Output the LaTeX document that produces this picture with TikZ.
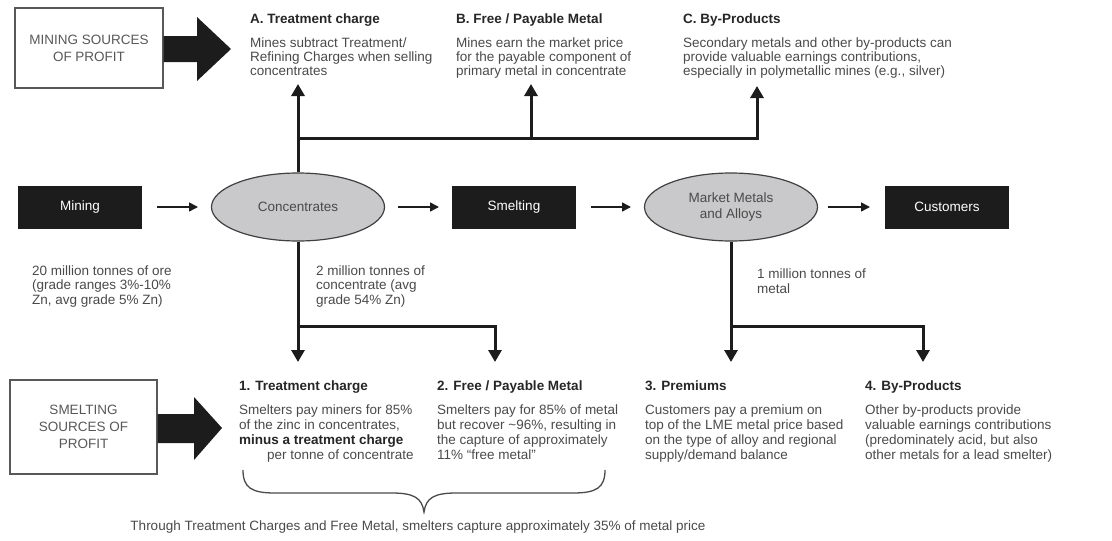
\documentclass[tikz,border=0pt]{standalone}
\usepackage{fontspec}
\setmainfont{Liberation Sans}
\usetikzlibrary{arrows.meta,shapes.geometric}
\definecolor{boxblack}{HTML}{1C1C1C}
\definecolor{ellfill}{HTML}{C9C9CB}
\definecolor{bodygray}{HTML}{4A4A4A}
\definecolor{titlegray}{HTML}{262626}
\definecolor{srcgray}{HTML}{585858}
\begin{document}
\begin{tikzpicture}[x=1pt,y=-1pt,
  ttl/.style={anchor=base west, inner sep=0pt, text=titlegray, font=\bfseries\fontsize{13.5}{15.5}\selectfont},
  bodytop/.style={anchor=base west, inner sep=0pt, align=left, text=bodygray, font=\fontsize{13.5}{14}\selectfont},
  bodymid/.style={anchor=base west, inner sep=0pt, align=left, text=bodygray, font=\fontsize{13.5}{14.5}\selectfont},
  bodybot/.style={anchor=base west, inner sep=0pt, align=left, text=bodygray, font=\fontsize{13.5}{15}\selectfont},
  blackbox/.style={fill=boxblack, text=white, minimum width=124pt, minimum height=43pt, inner sep=0pt, font=\fontsize{13.5}{15}\selectfont},
  oval/.style={ellipse, draw=black!75, line width=1.2pt, fill=ellfill, minimum width=173pt, minimum height=68pt, inner sep=0pt, align=center, text=bodygray, font=\fontsize{13.5}{16.5}\selectfont},
  srcbox/.style={draw=srcgray, line width=1.3pt, text=srcgray, align=center, inner sep=0pt, font=\fontsize{13.5}{17}\selectfont},
  flow/.style={line width=1.6pt, boxblack, -{Triangle[width=9pt,length=9pt]}},
  conn/.style={line width=3pt, boxblack},
  connarrow/.style={conn, -{Triangle[width=13pt,length=12pt]}},
  blockarrow/.style={fill=boxblack},
]
\useasboundingbox (0,0) rectangle (1112,541);

% ---------- source boxes and block arrows ----------
\node[srcbox, minimum width=148pt, minimum height=80pt] (srcM) at (89,48) {MINING SOURCES\\OF PROFIT};
\fill[blockarrow] (srcM.east |- 0,36) -- (197,36) -- (197,17) -- (231,49) -- (197,81) -- (197,62) -- (srcM.east |- 0,62) -- cycle;

\node[srcbox, minimum width=147pt, minimum height=94pt] (srcS) at (83.5,427) {SMELTING\\SOURCES OF\\PROFIT};
\fill[blockarrow] (srcS.east |- 0,414) -- (194,414) -- (194,397) -- (222,428) -- (194,460) -- (194,443) -- (srcS.east |- 0,443) -- cycle;

% ---------- top texts (base = baseline of last line) ----------
\node[ttl] (At) at (250,23) {A. Treatment charge};
\node[bodytop] (Ab) at (250,75) {Mines subtract Treatment/\\Refining Charges when selling\\concentrates};
\node[ttl] (Bt) at (456,23) {B. Free / Payable Metal};
\node[bodytop] (Bb) at (456,75) {Mines earn the market price\\for the payable component of\\primary metal in concentrate};
\node[ttl] (Ct) at (683,23) {C. By-Products};
\node[bodytop] (Cb) at (683,75) {Secondary metals and other by-products can\\provide valuable earnings contributions,\\especially in polymetallic mines (e.g., silver)};

% ---------- main flow ----------
\node[blackbox] (mining) at (80,207) {Mining};
\node[oval] (conc) at (298,207) {Concentrates};
\node[blackbox] (smelt) at (514,207) {Smelting};
\node[oval] (mkt) at (731,207) {Market Metals\\and Alloys};
\node[blackbox] (cust) at (947,207) {Customers};

\draw[flow] (mining.east -| 157,0) -- (conc.west -| 198,0);
\draw[flow] (conc.east -| 398,0) -- (smelt.west -| 439,0);
\draw[flow] (smelt.east -| 591,0) -- (mkt.west -| 631,0);
\draw[flow] (mkt.east -| 828,0) -- (cust.west -| 870,0);

\node[bodymid] (q1) at (32,304) {20 million tonnes of ore\\(grade ranges 3\%-10\%\\Zn, avg grade 5\% Zn)};
\node[bodymid] (q2) at (316,304) {2 million tonnes of\\concentrate (avg\\grade 54\% Zn)};
\node[bodymid] (q3) at (757,293) {1 million tonnes of\\metal};

% ---------- top connectors ----------
\coordinate (jA) at (298,138);
\coordinate (jB) at (531,138);
\coordinate (tA) at (298,84);
\coordinate (tB) at (531,84);
\coordinate (tC) at (757,86);
\draw[connarrow] (conc.north) -- (tA);
\draw[connarrow] (jA) -| (tC);
\draw[connarrow] (jB) -- (tB);

% ---------- bottom connectors ----------
\coordinate (j1) at (298,326);
\coordinate (t1) at (298,362);
\coordinate (t2) at (495,362);
\coordinate (j3) at (731,326);
\coordinate (t3) at (731,362);
\coordinate (t4) at (923,362);
\draw[connarrow] (conc.south) -- (t1);
\draw[connarrow] (j1) -| (t2);
\draw[connarrow] (mkt.south) -- (t3);
\draw[connarrow] (j3) -| (t4);

% ---------- bottom texts ----------
\node[ttl] (t1t) at (239,390) {1. Treatment charge};
\node[bodybot] (t1b) at (239,459) {Smelters pay miners for 85\%\\of the zinc in concentrates,\\{\bfseries\color{titlegray}minus a treatment charge}\\\hspace*{28pt}per tonne of concentrate};
\node[ttl] (t2t) at (437,390) {2. Free / Payable Metal};
\node[bodybot] (t2b) at (437,459) {Smelters pay for 85\% of metal\\but recover \textasciitilde96\%, resulting in\\the capture of approximately\\11\% “free metal”};
\node[ttl] (t3t) at (645,390) {3. Premiums};
\node[bodybot] (t3b) at (645,459) {Customers pay a premium on\\top of the LME metal price based\\on the type of alloy and regional\\supply/demand balance};
\node[ttl] (t4t) at (865,390) {4. By-Products};
\node[bodybot] (t4b) at (865,459) {Other by-products provide\\valuable earnings contributions\\(predominately acid, but also\\other metals for a lead smelter)};

% ---------- brace ----------
\draw[line width=1.3pt, bodygray] (243,470) .. controls (243,488) and (252,493) .. (275,493) -- (392,493) .. controls (414,493) and (422,498) .. (424,512) .. controls (426,498) and (434,493) .. (456,493) -- (573,493) .. controls (596,493) and (605,488) .. (605,470);
\node[anchor=base, inner sep=0pt, text=bodygray, font=\fontsize{13.5}{15}\selectfont] (sum) at (418,530) {Through Treatment Charges and Free Metal, smelters capture approximately 35\% of metal price};
\end{tikzpicture}
\end{document}
